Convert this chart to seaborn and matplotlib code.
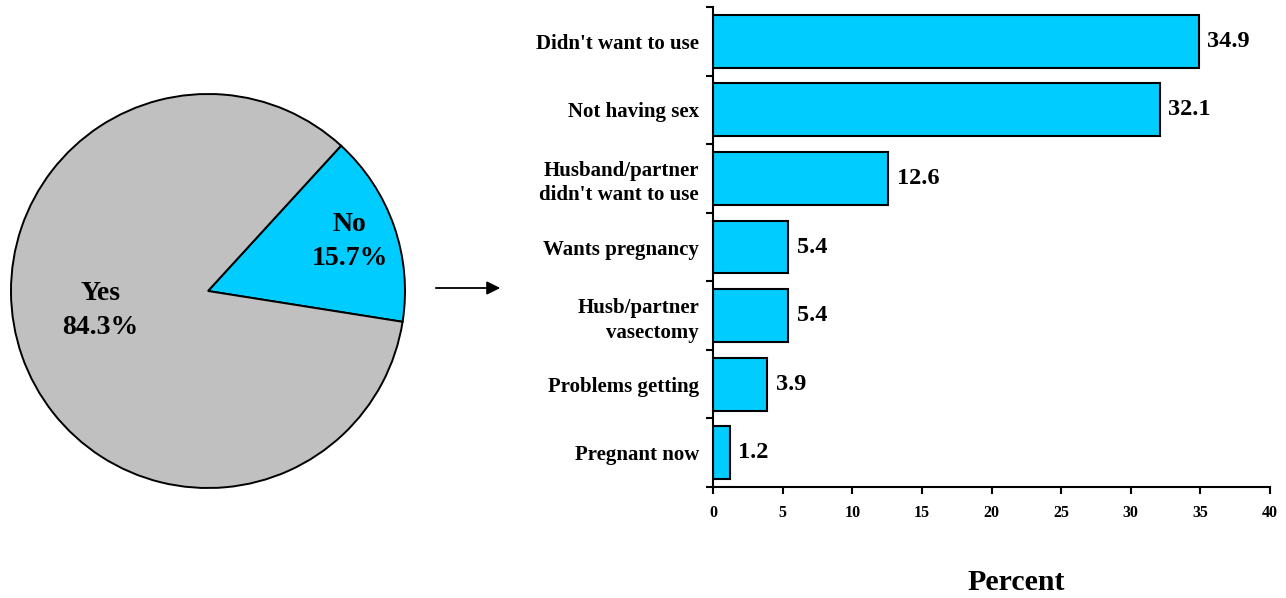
import numpy as np
import pandas as pd
import seaborn as sns
import matplotlib.pyplot as plt
from matplotlib.patches import FancyArrowPatch

# pie data
pie_labels = ['No', 'Yes']
pie_values = [15.7, 84.3]
pie_colors = ['#00CCFF', '#C0C0C0']

# bar data
reasons = ["Didn't want to use", 'Not having sex', "Husband/partner\ndidn't want to use",
           'Wants pregnancy', 'Husb/partner\nvasectomy', 'Problems getting', 'Pregnant now']
percent = [34.9, 32.1, 12.6, 5.4, 5.4, 3.9, 1.2]
xticks = [0, 5, 10, 15, 20, 25, 30, 35, 40]

sns.set_theme(style='white')
plt.rcParams['font.family'] = ['Liberation Serif', 'DejaVu Serif']
plt.rcParams['font.weight'] = 'bold'
plt.rcParams['text.color'] = 'black'
plt.rcParams['xtick.color'] = 'black'
plt.rcParams['ytick.color'] = 'black'
plt.rcParams['axes.labelcolor'] = 'black'

fig = plt.figure(figsize=(12.86, 5.98), dpi=100)

# ---- pie ----
ax_pie = fig.add_axes([10/1286, 108/598, 396/1286, 398/598])
wedges, _ = ax_pie.pie(pie_values, colors=pie_colors, startangle=-9, counterclock=True,
                       wedgeprops=dict(edgecolor='black', linewidth=1.4))
ax_pie.set_xlim(-1.005, 1.005)
ax_pie.set_ylim(-1.005, 1.005)
ax_pie.set_aspect('equal')
label_pos = {'No': (0.72, 0.25), 'Yes': (-0.545, -0.10)}
for lab, val in zip(pie_labels, pie_values):
    x, y = label_pos[lab]
    ax_pie.text(x, y, f'{lab}\n{val}%', ha='center', va='center', fontsize=20,
                fontweight='bold', linespacing=1.45)

# arrow between the panels
fig.add_artist(FancyArrowPatch(
    (433/1286, 1 - 288/598), (503/1286, 1 - 288/598), transform=fig.transFigure,
    arrowstyle='-|>', mutation_scale=20, color='black', linewidth=1.3))

# ---- bars ----
ax = fig.add_axes([713/1286, 111/598, 557/1286, 480/598])
df = pd.DataFrame({'reason': reasons, 'percent': percent})
sns.barplot(data=df, x='percent', y='reason', orient='h', color='#00CCFF', saturation=1,
            width=0.77, edgecolor='black', linewidth=1.5, ax=ax)
ax.bar_label(ax.containers[0], fmt='%.1f', padding=6, fontsize=17.5, fontweight='bold',
             color='black')

ax.set_xlim(0, 40)
ax.set_ylim(len(reasons) - 0.5, -0.5)
ax.set_xticks(xticks)
ax.set_xticklabels([str(t) for t in xticks], fontsize=11.5, fontweight='bold')
ax.tick_params(axis='x', direction='out', length=5, width=1.5, color='black', pad=8, bottom=True)

# y ticks at category boundaries, labels in between
ax.set_yticks(np.arange(-0.5, len(reasons), 1.0))
ax.set_yticklabels([])
ax.set_yticks(np.arange(len(reasons)), minor=True)
ax.set_yticklabels(reasons, minor=True, fontsize=15, fontweight='bold', ha='right',
                   linespacing=1.3)
ax.tick_params(axis='y', which='major', direction='out', length=5, width=1.5, color='black', left=True)
ax.tick_params(axis='y', which='minor', length=0, pad=10)

ax.set_ylabel('')
ax.set_xlabel('Percent', fontsize=21.5, fontweight='bold', va='center')
ax.xaxis.set_label_coords((1016 - 713) / 557, -0.2)

for s in ['top', 'right']:
    ax.spines[s].set_visible(False)
for s in ['left', 'bottom']:
    ax.spines[s].set_color('black')
    ax.spines[s].set_linewidth(1.5)

plt.savefig('out.png', dpi=100)
